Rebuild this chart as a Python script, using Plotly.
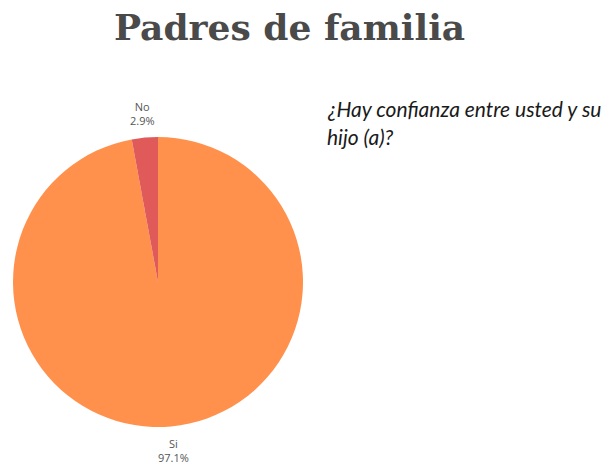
import math
import plotly.graph_objects as go

labels = ["Si", "No"]
values = [97.1, 2.9]
colors = ["#FF914D", "#E05A5A"]
title_text = "Padres de familia"
question_lines = ["¿Hay confianza entre usted y su", "hijo (a)?"]

W, H = 613, 465
cx, cy, r = 158, 282, 145

fig = go.Figure(go.Pie(
    labels=labels, values=values,
    marker=dict(colors=colors, line=dict(width=0)),
    sort=False, direction="clockwise", rotation=0,
    textinfo="none",
    showlegend=False,
    domain=dict(x=[(cx - r) / W, (cx + r) / W], y=[1 - (cy + r) / H, 1 - (cy - r) / H]),
    hoverinfo="label+percent",
))

total = sum(values)
start = 0.0
for lab, v in zip(labels, values):
    mid = (start + v / 2) / total * 2 * math.pi
    start += v
    dist = r + 24
    px = cx + dist * math.sin(mid)
    py = cy - dist * math.cos(mid)
    fig.add_annotation(text=f"{lab}<br>{v / total * 100:.1f}%", x=px / W, y=1 - py / H,
                       xref="paper", yref="paper", showarrow=False,
                       xanchor="center", yanchor="middle", align="center",
                       font=dict(family="Open Sans", size=11, color="#555555"))

fig.add_annotation(text="<b>" + title_text + "</b>", x=289 / W, y=1 - 27 / H,
                   xref="paper", yref="paper", showarrow=False,
                   xanchor="center", yanchor="middle",
                   font=dict(family="DejaVu Serif", size=36, color="#4a4a4a"))
for i, line in enumerate(question_lines):
    fig.add_annotation(text="<i>" + line + "</i>", x=325 / W, y=1 - (109 + 27 * i) / H,
                       xref="paper", yref="paper", showarrow=False,
                       xanchor="left", yanchor="middle",
                       font=dict(family="Lato", size=21, color="#1a1a1a"))

fig.update_layout(width=W, height=H, margin=dict(l=0, r=0, t=0, b=0),
                  paper_bgcolor="white", plot_bgcolor="white")
fig.write_html("out.html", config={"displayModeBar": False},
               post_script="document.body.style.margin='0';")
